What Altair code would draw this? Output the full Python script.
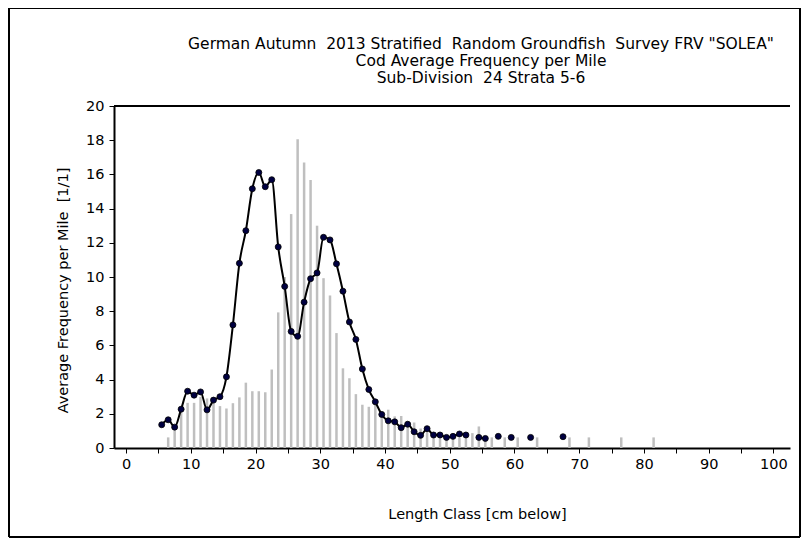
import altair as alt
import pandas as pd

# Line series (average frequency per mile), x = length class position
line_x = [5.5, 6.5, 7.5, 8.5, 9.5, 10.5, 11.5, 12.5, 13.5, 14.5,
          15.5, 16.5, 17.5, 18.5, 19.5, 20.5, 21.5, 22.5, 23.5, 24.5,
          25.5, 26.5, 27.5, 28.5, 29.5, 30.5, 31.5, 32.5, 33.5, 34.5,
          35.5, 36.5, 37.5, 38.5, 39.5, 40.5, 41.5, 42.5, 43.5, 44.5,
          45.5, 46.5, 47.5, 48.5, 49.5, 50.5, 51.5, 52.5,
          54.5, 55.5, 57.5, 59.5, 62.5, 67.5]
line_y = [1.36, 1.65, 1.22, 2.27, 3.32, 3.09, 3.28, 2.23, 2.80, 3.00,
          4.16, 7.20, 10.80, 12.71, 15.16, 16.11, 15.28, 15.69, 11.76, 9.45,
          6.82, 6.53, 8.53, 9.90, 10.24, 12.32, 12.17, 10.77, 9.17, 7.37,
          6.35, 4.62, 3.42, 2.70, 1.96, 1.59, 1.53, 1.19, 1.39, 0.95,
          0.74, 1.13, 0.76, 0.76, 0.62, 0.68, 0.82, 0.76,
          0.62, 0.56, 0.68, 0.62, 0.62, 0.66]

# Grey bar series
bar_x = [6.5, 7.5, 8.5, 9.5, 10.5, 11.5, 12.5, 13.5, 14.5, 15.5,
         16.5, 17.5, 18.5, 19.5, 20.5, 21.5, 22.5, 23.5, 24.5, 25.5,
         26.5, 27.5, 28.5, 29.5, 30.5, 31.5, 32.5, 33.5, 34.5, 35.5,
         36.5, 37.5, 38.5, 39.5, 40.5, 41.5, 42.5, 43.5, 44.5, 45.5,
         46.5, 47.5, 48.5, 49.5, 50.5, 51.5, 52.5, 53.5, 54.5, 55.5,
         56.5, 58.5, 60.5, 63.5, 68.5, 71.5, 76.5, 81.5]
bar_y = [0.62, 1.05, 2.31, 2.64, 2.64, 2.99, 2.90, 2.70, 2.45, 2.31,
         2.62, 2.96, 3.82, 3.32, 3.32, 3.26, 4.59, 7.93, 10.00, 13.68,
         18.06, 16.70, 15.67, 13.00, 9.93, 8.92, 6.72, 4.66, 4.08, 3.15,
         2.53, 2.41, 2.60, 2.15, 2.24, 1.85, 1.87, 1.58, 1.49, 1.14,
         1.05, 0.80, 0.76, 0.66, 0.70, 0.60, 0.70, 0.87, 1.26, 0.50,
         0.62, 0.62, 0.62, 0.62, 0.62, 0.62, 0.62, 0.62]

title_lines = ['German Autumn  2013 Stratified  Random Groundfish  Survey FRV "SOLEA"',
               'Cod Average Frequency per Mile',
               'Sub-Division  24 Strata 5-6']
x_title = "Length Class [cm below]"
y_title = "Average Frequency per Mile  [1/1]"
x_ticks = list(range(0, 101, 5))
y_ticks = list(range(0, 21, 2))


def keep_spaces(s):
    # keep double spaces visible in SVG
    return s.replace("  ", " \u00a0")


# group contiguous runs of the line so gaps are not bridged
seg = []
s = 0
for i, v in enumerate(line_x):
    if i > 0 and abs(v - line_x[i - 1] - 1) > 1e-6:
        s += 1
    seg.append(s)

line_df = pd.DataFrame({"x": line_x, "y": line_y, "seg": seg})
bar_df = pd.DataFrame({"x": bar_x, "y": bar_y})

FONT = "DejaVu Sans"
xscale = alt.Scale(domain=[-1.1, 101.8], nice=False, zero=False)
yscale = alt.Scale(domain=[0, 20], nice=False, zero=True)

xaxis = alt.Axis(values=x_ticks, labelExpr="datum.value % 10 == 0 ? datum.label : ''",
                 title=x_title, grid=False, tickSize=5, labelPadding=4,
                 titlePadding=37, titleX=363, titleAlign="center",
                 labelOverlap=False)
yaxis = alt.Axis(values=y_ticks, title=keep_spaces(y_title), grid=False, tickSize=5,
                 labelPadding=5, titlePadding=15, titleY=184, titleAlign="center",
                 labelOverlap=False)

X = alt.X("x:Q", scale=xscale, axis=xaxis)
Y = alt.Y("y:Q", scale=yscale, axis=yaxis)

bars = alt.Chart(bar_df).mark_bar(size=2.5, color="#BFBFBF").encode(x=X, y=Y)

top_rule = alt.Chart(bar_df).mark_rule(color="black", strokeWidth=2).encode(
    y=alt.YDatum(20, scale=yscale, axis=yaxis)
)

line = alt.Chart(line_df).mark_line(color="black", strokeWidth=2,
                                    interpolate="monotone").encode(
    x=X, y=Y, detail="seg:N",
)

pts = alt.Chart(line_df).mark_point(filled=True, size=36, fill="#000040",
                                    stroke="black", strokeWidth=0.8,
                                    opacity=1).encode(x=X, y=Y)

frame = alt.Chart(bar_df).mark_rect(fill=None, stroke="black", strokeWidth=1,
                                    clip=False).encode(
    x=alt.value(-105), x2=alt.value(686),
    y=alt.value(-98), y2=alt.value(431),
)

title_layers = []
for i, (txt, ypix) in enumerate(zip(title_lines, [-62, -45, -28])):
    title_layers.append(
        alt.Chart(pd.DataFrame({"t": [keep_spaces(txt)]})).mark_text(
            font=FONT, fontSize=15.5, color="black", align="center",
            baseline="middle").encode(
            text="t:N", x=alt.value(367), y=alt.value(ypix))
    )

chart = alt.layer(frame, bars, top_rule, line, pts, *title_layers).properties(
    width=676, height=342,
    autosize=alt.AutoSizeParams(type="none"),
    padding={"left": 106, "top": 98, "right": 12, "bottom": 92},
).configure_axis(
    domainColor="black", domainWidth=2, tickColor="black", tickWidth=1,
    labelFont=FONT, labelFontSize=14.5, labelColor="black",
    titleFont=FONT, titleFontSize=14.5, titleFontWeight="normal", titleColor="black",
).configure_view(stroke=None)

chart.save("out.html", embed_options={"renderer": "svg", "actions": False})
